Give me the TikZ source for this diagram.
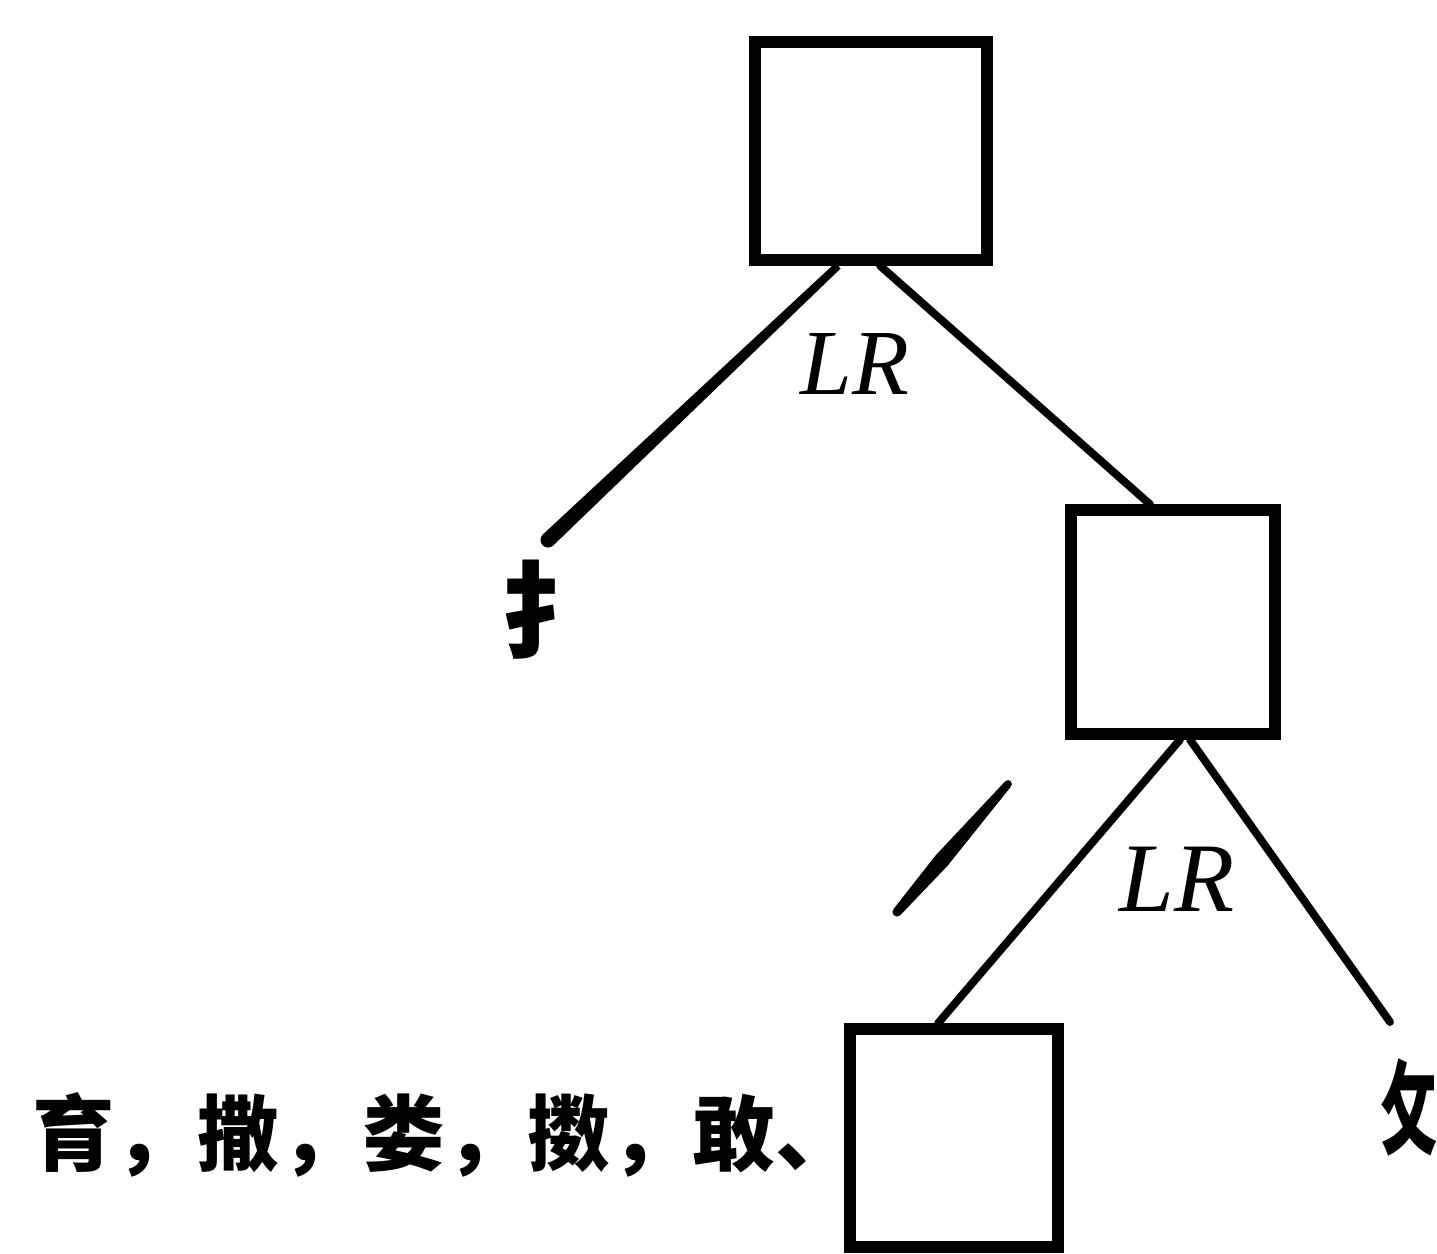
\documentclass[tikz,border=0pt]{standalone}
\usepackage{fontspec}
\usepackage{graphicx}
\setmainfont{Liberation Serif}
\newfontfamily\cjk{Noto Sans CJK SC}
\usetikzlibrary{calc}
\begin{document}
\begin{tikzpicture}[x=0.02cm,y=-0.02cm,
  box/.style={draw, line width=6.5pt, inner sep=0pt},
  conn/.style={line width=4.5pt, line cap=round},
  lbl/.style={font=\itshape\fontsize{53}{60}\selectfont, inner sep=0pt},
  zi/.style={font=\cjk\bfseries\fontsize{47}{52}\selectfont, inner sep=0pt}]
\useasboundingbox (0,0) rectangle (1437,1254);
% boxes
\node[box, minimum width=4.64cm, minimum height=4.36cm] (top) at (871,151) {};
\node[box, minimum width=4.08cm, minimum height=4.48cm] (mid) at (1173,622) {};
\node[box, minimum width=4.16cm, minimum height=4.36cm] (bot) at (954,1138) {};
% labels
\node[lbl] (lr1) at (855,364) {LR};
\node[lbl, font=\itshape\fontsize{56}{62}\selectfont] (lr2) at (1177,879) {LR};
\node[zi, font=\cjk\bfseries\fontsize{60}{66}\selectfont] (shou) at (553,610) {扌};
\node[zi, font=\cjk\bfseries\fontsize{58}{64}\selectfont] (pu) at (1410,1108) {\scalebox{0.55}[1]{攵}};
\node[zi, anchor=west] (ex) at (32,1135) {育，撒，娄，擞，敢、};
% connector end points
\coordinate (t1) at ($(top.south)+(-33,0)$);
\coordinate (t2) at ($(top.south)+(9,0)$);
\coordinate (m1) at ($(mid.south)+(7,0)$);
\coordinate (m2) at ($(mid.south)+(17,0)$);
\coordinate (k1) at (548,540);
\coordinate (k3) at (1390,1022);
\coordinate (s1) at (1008,784);
\coordinate (s2) at (897,912);
% connectors
\fill ($(t1)!2.2pt!90:(k1)$) -- ($(k1)!4.3pt!-90:(t1)$) -- ($(k1)!4.3pt!90:(t1)$) -- ($(t1)!2.2pt!-90:(k1)$) -- cycle;
\fill (k1) circle (4.3pt);
\draw[conn] (t2) -- ($(mid.north)+(-23,0)$);
\draw[conn] (m1) -- ($(bot.north)+(-16,0)$);
\draw[conn] (m2) -- (k3);
% the free stroke
\coordinate (s3) at ($(s1)!0.6!(s2)$);
\fill ($(s1)!2.2pt!90:(s2)$) -- ($(s3)!4.5pt!-90:(s1)$) -- ($(s2)!2.6pt!-90:(s1)$) -- ($(s2)!2.6pt!90:(s1)$) -- ($(s3)!4.5pt!90:(s1)$) -- ($(s1)!2.2pt!-90:(s2)$) -- cycle;
\fill (s1) circle (2.2pt);
\fill (s2) circle (2.6pt);
\end{tikzpicture}
\end{document}
